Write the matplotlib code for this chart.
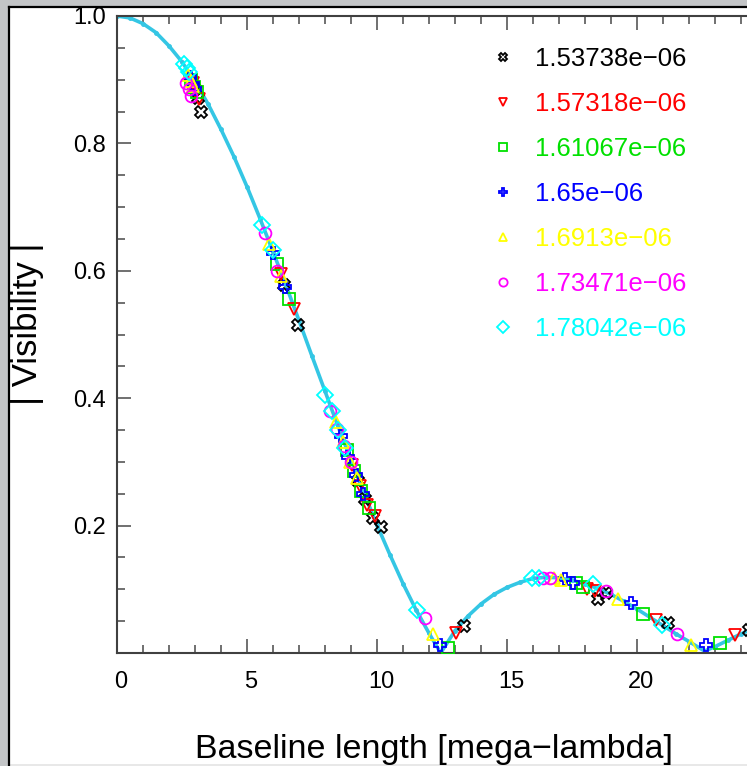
import matplotlib.pyplot as plt
from matplotlib.patches import Rectangle
from matplotlib.lines import Line2D
from matplotlib.ticker import MultipleLocator
from matplotlib.transforms import ScaledTranslation

# wavelengths (legend labels)
labels = ['1.53738e\u221206', '1.57318e\u221206', '1.61067e\u221206', '1.65e\u221206',
          '1.6913e\u221206', '1.73471e\u221206', '1.78042e\u221206']
colors = ['#000000', '#ff0000', '#00e000', '#0000ff', '#ffff00', '#ff00ff', '#00ffff']
markers = ['X', 'v', 's', 'P', '^', 'o', 'D']

# baseline length [mega-lambda] per wavelength
u_black = [3.00, 3.12, 3.22, 6.44, 6.95, 9.25, 9.55, 9.85, 10.15, 13.35, 18.50, 18.80, 21.20, 24.30]
u_red = [2.93, 3.05, 3.15, 6.29, 6.79, 9.04, 9.33, 9.63, 9.92, 13.05, 18.08, 18.37, 20.72, 23.75]
u_green = [2.86, 2.98, 3.07, 6.15, 6.63, 8.83, 9.12, 9.40, 9.69, 12.74, 17.66, 17.94, 20.24, 23.19]
u_blue = [2.80, 2.91, 3.00, 6.00, 6.48, 8.62, 8.90, 9.18, 9.46, 12.44, 17.24, 17.52, 19.75, 22.64]
u_yellow = [2.73, 2.84, 2.93, 5.85, 6.32, 8.41, 8.68, 8.95, 9.23, 12.14, 16.82, 17.09, 19.27, 22.09]
u_magenta = [2.66, 2.76, 2.85, 5.71, 6.16, 8.20, 8.46, 8.73, 8.99, 11.83, 16.39, 16.66, 18.79, 21.53]
u_cyan = [2.59, 2.69, 2.78, 5.56, 6.00, 7.99, 8.25, 8.51, 8.76, 11.53, 15.97, 16.23, 18.31, 20.98]

# |visibility| per wavelength
v_black = [0.885, 0.872, 0.850, 0.578, 0.515, 0.270, 0.242, 0.212, 0.198, 0.042, 0.085, 0.094, 0.047, 0.036]
v_red = [0.895, 0.880, 0.870, 0.595, 0.540, 0.295, 0.262, 0.232, 0.215, 0.032, 0.100, 0.098, 0.052, 0.028]
v_green = [0.900, 0.888, 0.880, 0.610, 0.556, 0.318, 0.285, 0.255, 0.228, 0.008, 0.110, 0.104, 0.062, 0.016]
v_blue = [0.905, 0.893, 0.885, 0.628, 0.575, 0.340, 0.308, 0.280, 0.250, 0.012, 0.116, 0.110, 0.078, 0.012]
v_yellow = [0.908, 0.898, 0.890, 0.642, 0.592, 0.362, 0.332, 0.300, 0.275, 0.030, 0.118, 0.115, 0.085, 0.012]
v_magenta = [0.895, 0.885, 0.875, 0.660, 0.600, 0.380, 0.352, 0.325, 0.300, 0.055, 0.118, 0.118, 0.098, 0.030]
v_cyan = [0.925, 0.918, 0.912, 0.672, 0.633, 0.405, 0.380, 0.350, 0.322, 0.067, 0.117, 0.118, 0.108, 0.044]

# model curve
model_u = [0, 0.5, 1, 1.5, 2, 2.5, 3, 3.5, 4, 4.5, 5, 5.5, 6, 6.5, 7, 7.5, 8, 8.5, 9, 9.5,
           10, 10.5, 11, 11.5, 12, 12.45, 13, 13.5, 14, 14.5, 15, 15.5, 16, 16.5, 17, 17.5,
           18, 18.5, 19, 19.5, 20, 20.5, 21, 21.5, 22, 22.6, 23, 23.5, 24, 24.5, 25]
model_v = [1.000, 0.997, 0.988, 0.974, 0.953, 0.928, 0.897, 0.862, 0.822, 0.779, 0.732, 0.682,
           0.630, 0.577, 0.522, 0.466, 0.411, 0.356, 0.303, 0.251, 0.201, 0.154, 0.109, 0.068,
           0.031, 0.000, 0.035, 0.058, 0.077, 0.092, 0.103, 0.111, 0.117, 0.119, 0.118, 0.114,
           0.109, 0.101, 0.092, 0.081, 0.069, 0.056, 0.043, 0.030, 0.018, 0.003, 0.010, 0.020,
           0.030, 0.039, 0.047]

series_u = [u_black, u_red, u_green, u_blue, u_yellow, u_magenta, u_cyan]
series_v = [v_black, v_red, v_green, v_blue, v_yellow, v_magenta, v_cyan]

plt.rcParams['font.family'] = ['Liberation Sans', 'DejaVu Sans']

W, H = 747, 766
fig = plt.figure(figsize=(W / 100, H / 100), dpi=100, facecolor='#c3c5c7')

# white window with black frame on the left and top
fig.patches.append(Rectangle((10 / W, 2 / H), 1, 756 / H, transform=fig.transFigure,
                             facecolor='white', edgecolor='none', zorder=-10))
fig.patches.append(Rectangle((10 / W, 0), 1, 2 / H, transform=fig.transFigure,
                             facecolor='#e8e8e8', edgecolor='none', zorder=-10))
fig.lines.append(Line2D([9 / W, 9 / W], [0, 759 / H], transform=fig.transFigure,
                        color='black', lw=1.6, zorder=-9))
fig.lines.append(Line2D([9 / W, 1], [759 / H, 759 / H], transform=fig.transFigure,
                        color='black', lw=1.6, zorder=-9))

ax = fig.add_axes([117 / W, 113 / H, 650 / W, 637 / H])
ax.set_facecolor('none')

ax.plot(model_u, model_v, '-', color='#34c6e4', lw=2.6, marker='o', markersize=2.5,
        zorder=2)

for u, v, c, m, lab in zip(series_u, series_v, colors, markers, labels):
    ax.plot(u, v, linestyle='none', marker=m, markersize=8.5, markerfacecolor='none',
            markeredgecolor=c, markeredgewidth=1.3, label=lab, zorder=3)

ax.set_xlim(0, 25)
ax.set_ylim(0, 1.0)
ax.set_xticks([0, 5, 10, 15, 20])
ax.xaxis.set_minor_locator(MultipleLocator(1))
ax.set_yticks([0.2, 0.4, 0.6, 0.8, 1.0])
ax.set_yticklabels(['0.2', '0.4', '0.6', '0.8', '1.0'])
ax.yaxis.set_minor_locator(MultipleLocator(0.05))

ax.tick_params(which='both', direction='in', top=True, right=True, color='#707070',
               width=1.4, labelsize=17)
ax.tick_params(which='major', length=10)
ax.tick_params(which='minor', length=6)
ax.tick_params(axis='x', pad=13)
ax.tick_params(axis='y', pad=8)
for s in ax.spines.values():
    s.set_color('#404040')
    s.set_linewidth(1.5)

# x tick labels sit a few pixels right of their ticks in the original
shift = ScaledTranslation(4 / 100, 0, fig.dpi_scale_trans)
for lbl in ax.get_xticklabels():
    lbl.set_transform(lbl.get_transform() + shift)

ax.set_xlabel('Baseline length [mega\u2212lambda]', fontsize=24.5)
ax.xaxis.set_label_coords(0.487, -0.127)
ax.set_ylabel('| Visibility |', fontsize=25)
ax.yaxis.set_label_coords(-0.112, 0.517)

leg = ax.legend(loc='upper left', bbox_to_anchor=(490 / W, 1 - 47 / H),
                bbox_transform=fig.transFigure, frameon=False, fontsize=18.5,
                labelcolor='markeredgecolor', markerscale=0.7, handlelength=1.0,
                handletextpad=0.75, labelspacing=0.82, borderpad=0, borderaxespad=0)

fig.savefig('out.png', dpi=100, facecolor=fig.get_facecolor())
